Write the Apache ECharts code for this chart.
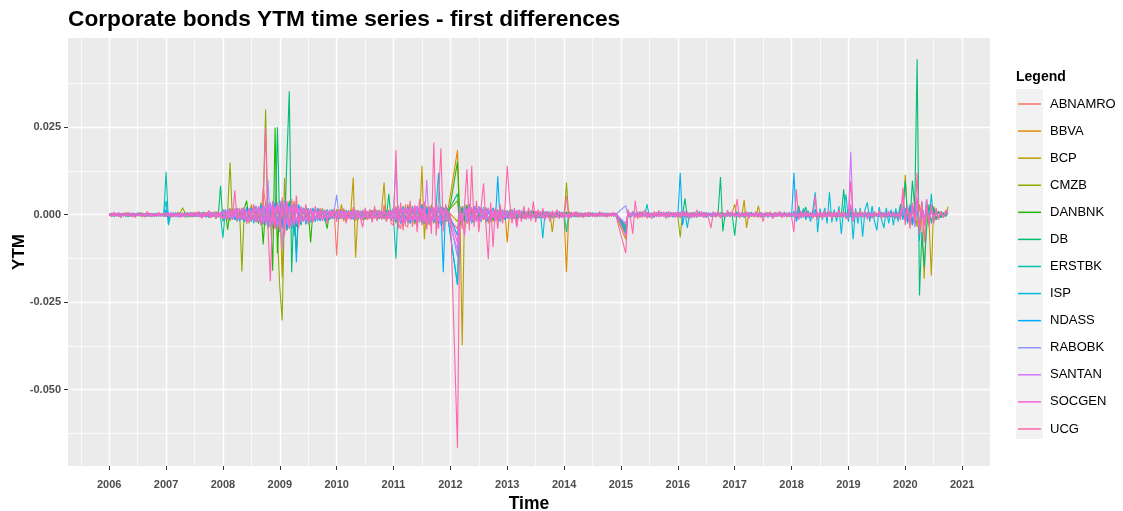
<!DOCTYPE html>
<html><head><meta charset="utf-8">
<script src="https://cdn.jsdelivr.net/npm/echarts@6/dist/echarts.min.js"></script>
<style>html,body{margin:0;padding:0;background:#fff}#c{width:1123px;height:511px}</style>
</head><body><div id="c"></div>
<script>
// Semi-monthly observations from 2006.0 to 2020.75 (355 points per series)
const START_YEAR = 2006;
const STEPS_PER_YEAR = 24;
const SERIES_NAMES = ['ABNAMRO','BBVA','BCP','CMZB','DANBNK','DB','ERSTBK','ISP','NDASS','RABOBK','SANTAN','SOCGEN','UCG'];
const COLORS = ['#F8766D','#E18A00','#BE9C00','#8CAB00','#24B700','#00BE70','#00C1AB','#00BBDA','#00ACFC','#8B93FF','#D575FE','#F962DD','#FF65AC'];
const YEAR_TICKS = [2006,2007,2008,2009,2010,2011,2012,2013,2014,2015,2016,2017,2018,2019,2020,2021];
const Y_TICKS = [-0.05,-0.025,0,0.025];
const TITLE = 'Corporate bonds YTM time series - first differences';

// YTM first differences, in units of 0.0001 (null = missing observation)
const ABNAMRO = [
4,-5,6,-3,2,-6,4,-2,5,-4,3,-6,5,-2,3,-5,6,-3,-4,2,-3,5,-2,3,
6,-4,-5,3,-3,5,-6,4,-2,6,-3,5,-4,3,7,-8,5,-4,9,-6,5,-8,6,-4,
-10,8,-12,15,-8,18,-15,12,-10,20,-18,14,-15,25,-20,18,-25,80,30,-22,-35,25,-30,20,
-25,30,-35,20,-28,25,-20,30,-25,15,-18,20,-15,12,-18,15,-12,14,-10,8,-15,10,-8,12,
-117,15,-10,12,-18,8,-12,15,-10,8,-9,-15,12,-10,8,-14,15,-12,8,-10,18,-12,10,-15,
-20,25,-25,-40,20,-30,-35,25,-20,15,-25,22,-18,20,-22,15,-25,18,-20,15,22,-18,12,-10,
null,null,null,-40,20,-25,18,-22,15,-20,25,-18,15,-20,12,-15,18,-12,10,-15,8,-10,12,-8,
10,-12,8,-10,12,-8,6,-10,9,-7,8,-6,10,-8,5,-7,8,-5,6,-8,5,-6,7,-5,
6,-8,5,-4,6,-5,4,-6,5,-3,4,-5,3,-4,5,-3,4,-5,3,-4,5,-3,4,null,
null,null,-50,8,-6,10,-8,5,-7,9,-5,6,-8,4,-6,7,-5,8,-4,6,-7,5,-4,6,
-5,7,-6,4,-8,5,-4,6,-7,5,-3,6,-5,4,-6,7,-4,5,-6,3,-5,6,-4,5,
-4,6,-5,3,-6,4,-3,5,-4,6,-5,3,-4,5,-3,4,-6,3,-4,5,-3,4,-5,3,
-5,8,-6,4,-7,5,-4,6,-5,7,-4,5,-6,4,-5,6,-3,5,-4,6,-5,4,-6,5,
-4,6,-5,3,-4,5,-6,4,-3,5,-4,6,-5,3,-4,5,-3,4,-5,3,-4,6,-5,10,
-15,20,-25,18,-12,30,-35,22,-28,15,-20,12,-10,8,-6,5,-4,6,3];
const BBVA = [
-3,5,-4,2,-5,3,-2,6,-4,3,-5,2,-3,4,-6,3,-2,5,-4,2,-3,4,-5,3,
-5,4,-6,5,-3,6,-4,3,-7,5,-4,6,-3,8,-6,4,-5,7,-8,6,-4,9,-7,5,
12,-10,15,-8,18,-12,10,-15,20,-18,14,-20,25,-15,22,-25,30,-28,35,-30,25,-40,30,-35,
40,-35,30,-45,35,-25,40,-30,20,-25,18,-22,15,-20,12,-18,15,-12,18,-15,10,-12,14,-10,
15,-12,10,-18,12,-8,15,-10,8,-14,12,-9,10,-15,8,-12,14,-10,12,-8,15,-12,10,-14,
20,-25,18,-22,25,-20,30,-18,22,-28,25,-20,30,-25,20,-30,25,-22,28,-20,25,-30,20,15,
null,null,null,184,-30,25,-20,30,-25,18,-22,25,-18,20,-15,22,-25,18,-20,15,-18,12,-15,10,
-79,15,-12,10,-15,12,-8,10,-12,8,-10,12,-8,6,-10,8,-6,9,-7,5,-8,6,-5,7,
-6,-164,10,-5,6,-4,5,-6,3,-4,5,-3,4,-5,3,-4,2,-3,4,-2,3,-4,2,null,
null,null,-40,6,-5,8,-6,4,-7,5,-4,6,-5,3,-6,4,-3,5,-4,6,-3,4,-5,3,
-4,6,-5,3,-6,4,-3,5,-4,6,-3,4,-5,3,-4,5,-3,4,-6,3,-4,5,-3,4,
-3,5,-4,2,-3,4,-5,3,-2,4,-3,5,-4,2,-3,4,-2,3,-4,2,-3,4,-2,3,
-4,5,-3,6,-4,3,-5,4,-3,5,-4,3,-5,4,-3,6,-4,3,-5,4,-3,5,-4,3,
-3,5,-4,3,-5,4,-3,5,-4,3,-5,4,-3,5,-4,3,-4,5,-3,4,-5,3,-4,8,
-12,18,-20,15,-25,30,-40,35,-30,25,-20,15,-12,10,-8,6,-5,4,3];
const BCP = [
2,-4,3,-2,5,-3,2,-5,4,-2,3,-4,2,-3,5,-2,4,-3,2,-4,3,-2,4,-3,
4,-3,5,-6,3,-4,6,-3,5,-7,4,-5,8,-4,6,-9,5,-6,10,-7,8,-12,6,-8,
15,-12,10,-18,15,-10,20,-15,12,-20,18,-25,30,-20,25,-18,35,-25,30,-40,28,-30,25,-35,
30,-180,105,-40,35,-30,25,-35,20,-25,18,-20,15,-18,12,-15,10,-12,15,-10,12,-8,10,-12,
15,-12,30,-10,12,-8,10,106,-122,12,-10,8,-12,10,-8,12,-10,8,-12,15,92,-20,12,-15,
20,-15,25,-20,18,-25,20,-18,25,-22,18,-20,140,-70,25,-20,30,-25,20,-28,22,-18,15,10,
null,null,null,-20,10,-373,30,-25,20,-22,18,-15,20,-18,15,-12,18,-15,12,-10,15,-12,10,-8,
12,-10,8,-12,10,-8,6,-10,8,-6,9,-7,10,-8,6,-9,7,-5,8,-50,6,-8,5,-6,
5,8,-6,4,-5,6,-3,4,-5,3,-4,5,-3,4,-2,3,-4,2,-3,4,-2,3,-4,null,
null,null,-70,6,-4,5,-6,4,-3,5,-4,6,-5,3,-4,6,-3,5,-4,3,-5,4,-3,5,
-4,5,-3,6,-4,3,-5,4,-3,6,-5,4,-3,5,-6,4,-3,5,-4,6,-3,4,-5,6,
30,-6,5,-4,42,-38,6,-5,4,-6,25,-8,5,-4,6,-3,5,-4,3,-5,4,-3,5,-4,
4,-5,3,-4,6,-3,5,-4,3,-6,4,-5,3,-4,5,-3,4,-6,5,-3,4,-5,3,-4,
5,-4,3,-5,4,-3,6,-4,5,-3,4,-5,3,-4,6,-3,5,-4,3,-5,4,-3,5,6,
114,-20,25,-30,20,-35,30,-25,-183,20,-15,-174,25,-15,10,-8,6,-5,23];
const CMZB = [
-2,3,-4,2,-3,4,-2,3,-5,2,-3,4,-2,5,-3,2,-4,3,-2,4,-3,2,-4,3,
5,-4,3,-5,4,-3,6,20,5,-3,4,-6,3,-5,6,-4,8,-6,5,-7,6,-5,8,-6,
10,-8,12,149,-15,10,-12,18,-162,15,-20,12,-18,25,-15,20,-25,30,301,-30,25,-35,30,-60,
-207,-302,40,-35,30,-40,25,-30,20,-25,18,-20,15,-18,12,-15,18,-12,10,-14,12,-10,8,-12,
12,-10,15,-12,8,-10,12,-8,10,-14,8,-12,10,-8,12,-10,15,-12,10,-8,12,-15,10,-12,
18,-20,15,-22,20,-18,25,-20,18,-25,22,-18,20,-25,18,-22,25,-20,18,-15,20,-22,15,10,
null,null,null,40,-25,20,-18,22,-20,15,-18,20,-15,18,-12,15,-18,12,-10,15,-12,10,-8,12,
-10,12,-8,10,-12,8,-6,10,-8,6,-9,7,-10,8,-6,9,-7,5,-8,6,-5,7,-6,5,
-5,92,-10,6,-5,4,-6,5,-3,4,-5,3,-4,5,-3,4,-2,3,-4,2,-3,4,-2,null,
null,null,-30,5,-4,6,-5,3,-4,5,-6,4,-3,5,-4,6,-3,4,-5,3,-4,5,-3,4,
-5,-65,8,-4,6,-5,3,-4,5,-3,4,-6,5,-3,4,-5,3,-4,6,-3,4,-5,3,-4,
5,-3,4,-5,3,-4,6,-3,5,-4,3,-5,4,-3,5,-4,3,-5,4,-3,5,-4,3,-5,
4,-3,5,-4,3,-6,4,-3,5,-4,6,-3,4,-5,3,-4,5,-3,4,-6,3,-4,5,-3,
4,-5,3,-4,6,-3,5,-4,3,-5,4,-3,5,-4,3,-6,4,-3,5,-4,3,-5,4,10,
-15,20,-25,30,-20,35,-40,25,-30,20,-15,12,-10,8,-6,5,-4,6,15];
const DANBNK = [
3,-2,4,-3,2,-4,3,-2,5,-3,2,-4,3,-2,4,-3,2,-5,3,-2,4,-3,2,-4,
-3,4,-5,3,-4,6,-3,5,-4,3,-6,4,-5,3,-4,6,-5,4,-7,5,-6,8,-5,6,
-10,12,-43,15,-12,10,-15,12,-10,18,40,-15,20,-18,15,-25,20,-85,25,-30,20,-160,249,-110,
30,-40,25,-35,40,-30,25,-110,20,-25,18,-20,15,-79,12,-15,10,-12,15,-10,-40,12,-8,10,
-12,10,-8,12,-10,8,-12,10,-8,12,-10,8,-14,10,-8,12,-10,8,-12,10,-8,12,-10,8,
-15,20,-18,15,-22,18,-20,25,-18,20,-22,15,-25,20,-18,22,-20,18,-25,20,-15,18,-20,-10,
null,null,null,152,-30,20,-18,25,-20,15,-22,18,-15,20,-12,15,-18,12,-15,10,-12,15,-10,8,
-10,8,-12,10,-8,6,-10,8,-6,9,-7,10,-8,6,-9,7,-5,8,-6,5,-7,6,-5,7,
-6,5,-4,6,-5,3,-4,5,-3,4,-5,3,-4,2,-3,4,-2,3,-4,2,-3,4,-2,null,
null,null,-45,5,-4,6,-3,5,-4,3,-5,4,-6,3,-4,5,-3,4,-5,3,-4,6,-3,4,
-4,6,-5,3,-4,5,-3,6,-4,3,-5,4,-3,5,-4,6,-3,4,-5,3,-4,5,-3,4,
-3,4,-5,3,-4,5,-3,4,-2,5,-4,3,-5,4,-3,2,-4,3,-5,4,-3,5,-4,3,
-4,3,-5,4,-3,5,-4,3,-6,4,-3,5,-4,3,-5,4,-3,6,-4,3,-5,4,-3,5,
-3,4,-5,3,-4,6,-3,5,-4,3,-5,4,-3,5,-4,3,-5,4,-3,6,-4,3,-5,8,
-10,15,-20,25,-30,40,-35,30,-25,20,-15,12,-10,8,-6,5,-4,3,5];
const DB = [
-2,4,-3,2,-5,3,-2,4,-3,2,-4,3,-2,5,-3,2,-4,3,-2,4,-5,3,-2,4,
-3,5,-4,3,-5,4,-6,3,-4,5,-3,6,-5,4,-3,7,-5,4,-8,6,-5,7,-6,83,
-20,15,-12,18,-10,15,-18,12,-15,20,-25,15,-20,25,-18,22,-30,25,-20,30,-25,35,-40,250,
-50,40,-45,160,353,-164,30,-35,25,-30,20,-25,18,-20,15,-18,12,-15,10,-12,15,-10,8,-12,
10,-8,12,-10,8,-12,10,-8,12,-10,8,-14,10,-8,12,-10,8,-12,10,-8,12,-10,60,-15,
15,-20,18,-15,22,-18,20,-25,18,-20,22,-15,25,-20,18,-22,20,-18,25,-20,15,-18,20,10,
null,null,null,60,-25,20,-18,25,-20,15,-22,18,-15,20,-12,15,-18,12,-15,10,-12,15,-10,8,
-8,10,-12,8,-10,6,-8,10,-6,9,-7,8,-10,6,-8,7,-5,9,-6,5,-7,6,-5,8,
-5,6,-4,5,-6,3,-5,4,-3,5,-4,3,-2,4,-3,5,-2,3,-4,2,-3,4,-2,null,
null,null,-50,4,-5,6,-3,5,-4,6,-3,4,-5,3,-4,6,-5,3,-4,5,-3,4,-6,3,
-5,6,-4,47,-8,5,-4,6,-5,3,-4,6,-3,5,-4,3,-6,5,108,-48,5,-4,6,-3,
-60,8,-5,4,-6,3,-5,4,-3,6,-4,5,-3,4,-5,3,-4,6,-3,5,-4,3,-5,4,
-3,5,-4,25,-5,3,22,-4,5,-3,4,-6,3,-5,4,-3,6,-4,3,-5,4,-3,73,-10,
5,-4,6,-3,5,-4,3,-6,4,-3,5,-4,3,-5,4,-3,5,-4,3,-6,4,-3,30,10,
97,-10,-22,97,20,444,-231,-50,-150,-40,30,-25,20,-15,10,-8,6,-5,4];
const ERSTBK = [
2,-3,4,-2,3,-5,2,-3,4,-2,5,-3,2,-4,3,-2,4,-3,2,-5,3,-2,4,-3,
123,-25,5,-4,6,-3,5,-4,3,-6,4,-5,3,-4,6,-5,4,-6,5,-7,6,-5,8,-6,
-66,12,-10,15,-12,10,-18,15,-12,20,-15,12,-20,25,-18,15,-25,20,-30,25,-20,30,-25,20,
-30,35,-25,30,-40,25,-60,30,-25,20,-18,15,-20,12,-15,18,-12,10,-15,12,-10,8,-12,10,
-10,8,-12,10,-8,12,-10,8,-12,10,-8,14,-10,8,-12,10,-8,12,-10,8,-12,10,-8,12,
-10,-126,20,-18,15,-20,18,-22,15,-18,20,-15,22,-18,15,-20,18,-22,15,-20,18,-25,15,-10,
null,null,null,-200,20,-25,18,-22,15,-18,20,-15,18,-12,15,-18,12,-10,15,-12,10,-8,12,-10,
8,-10,12,-8,10,-6,8,-10,6,-9,7,-8,10,-6,8,-7,5,-9,6,-5,7,-6,5,-8,
5,-50,8,-5,4,-6,3,-5,4,-3,5,-4,3,-2,4,-3,2,-4,3,-2,4,-3,2,null,
null,null,-55,4,-5,6,-3,5,-4,6,-3,4,-5,3,-4,6,-5,3,-4,5,-3,4,-6,3,
5,-3,4,-6,3,-4,6,-5,3,-4,5,-3,6,-4,3,-5,4,-3,5,-6,4,-3,5,-4,
4,-5,3,-4,6,-3,5,-4,3,-2,4,-5,3,-4,5,-3,2,-4,6,-3,4,-5,3,-4,
5,-4,3,-6,4,-3,5,-4,3,-5,6,-3,4,-5,3,-4,6,-3,4,-5,3,-6,4,-3,
4,-3,6,-5,3,-4,5,-3,4,-6,3,-5,4,-3,6,-4,3,-5,4,-3,5,-4,3,6,
-12,15,-20,25,-30,35,-45,30,-25,20,-15,12,-10,8,-6,5,-4,3,4];
const ISP = [
-3,2,-5,4,-2,3,-4,2,-6,3,-2,4,-3,5,-2,3,-4,2,-5,3,-2,4,-3,2,
40,-30,4,-5,3,-6,4,-3,5,-4,6,-3,4,-5,3,-6,5,-4,7,-5,6,-8,5,-7,
10,-12,15,-10,12,-15,10,-18,15,-20,12,-15,20,-25,18,-22,25,-20,30,-35,25,-30,35,-28,
30,-35,40,-30,35,-40,25,-30,20,-25,18,-22,15,-18,20,-15,12,-18,10,-15,12,-10,15,-8,
10,-12,8,-10,12,-8,10,-14,8,-12,10,-8,12,-10,8,-12,10,-8,14,-10,8,-12,10,-8,
15,-20,25,-18,22,-15,20,-25,18,-22,25,-18,30,-20,22,-25,18,-20,25,120,-30,20,15,-10,
null,null,null,-200,25,-20,30,-18,22,-25,20,-15,25,-20,18,-22,15,-18,20,-15,12,-18,15,-12,
10,-12,15,-10,12,-8,10,-12,8,-10,12,-8,6,-10,8,-67,10,-6,8,-10,6,-8,10,-6,
8,-6,5,-8,6,-4,7,-5,4,-6,5,-4,6,-3,5,-4,6,-5,4,-3,5,-4,3,null,
null,null,-45,6,-8,5,-6,8,-5,7,-4,30,-6,5,-8,6,-4,7,-5,6,-8,5,-6,7,
-6,8,-5,10,-38,6,-8,5,-7,9,-5,6,-8,5,-6,8,-4,7,-6,5,-8,6,-5,7,
-5,7,-6,4,-8,5,-6,8,-4,6,-5,7,-6,4,-8,5,-6,7,-4,6,-5,8,-6,5,
-8,10,-12,15,-10,18,-15,12,-20,15,64,-50,18,-15,20,-25,64,-22,15,-20,25,-55,18,58,
-20,25,-70,18,-25,20,-63,15,35,-20,25,-18,-45,22,-15,-38,20,-25,15,-30,18,-20,25,-15,
20,-25,30,-20,25,40,-74,35,-30,45,-25,60,-20,15,-12,10,-8,6,5];
const NDASS = [
2,-4,3,-2,5,-3,2,-4,3,-5,2,-3,4,-2,3,-5,2,-3,4,-2,3,-4,2,-3,
15,-10,5,-3,4,-6,3,-5,4,-3,6,-4,5,-3,4,-6,5,-7,4,-6,8,-5,6,-8,
12,-10,15,-12,10,-15,18,-12,15,-20,22,-15,20,-18,25,-20,30,-25,20,-30,35,-25,30,-35,
40,-30,35,-45,30,-35,25,-136,30,-25,20,-28,18,-22,15,-20,18,-15,12,-18,10,-15,12,-10,
8,-10,12,-8,10,-12,8,-10,14,-8,10,-12,8,-10,12,-8,10,-14,8,-10,12,-8,10,-12,
18,-20,15,-25,20,-18,22,-20,25,-18,20,-22,18,-25,20,-15,22,-20,18,-25,20,-164,25,10,
null,null,null,-60,20,-25,18,-22,30,-20,25,-18,20,-15,22,-18,15,-20,18,-15,110,-20,12,-15,
12,-10,8,-12,10,-8,12,-10,8,-6,10,-8,6,-9,8,-10,6,-8,5,-7,8,-6,5,-7,
6,-5,4,-6,5,-3,4,-5,3,-4,6,-3,5,-4,3,-5,4,-3,5,-2,4,-3,2,null,
null,null,-35,5,-6,4,-5,6,-3,5,-4,6,-5,3,-4,5,-6,4,-3,5,-4,6,-5,4,
-5,120,-30,6,-5,4,-6,5,-3,6,-4,5,-6,4,-3,5,-4,6,-5,3,-4,6,-5,4,
-4,5,-3,6,-4,5,-3,4,-5,3,-6,4,-3,5,-4,6,-3,4,-5,3,-4,5,-3,4,
-5,120,-20,6,-4,5,-6,4,-5,3,15,-8,5,-4,6,-5,4,-3,5,-6,4,-3,5,-4,
6,-5,4,-6,3,-5,4,-3,6,-4,5,-3,4,-6,5,-4,3,-5,4,-3,6,-4,5,-8,
15,-20,25,-30,20,35,-40,25,-20,30,-25,15,-12,10,-8,6,-5,4,3];
const RABOBK = [
3,-2,4,-3,2,-4,5,-2,3,-4,2,-3,5,-2,4,-3,2,-4,3,-2,5,-3,2,-4,
-4,5,-3,6,-4,3,-5,4,-6,5,-3,4,-6,5,-4,7,-5,6,-4,8,-6,5,-7,6,
-12,15,-10,12,-15,10,-12,18,-15,12,-20,15,-18,22,-20,18,-25,20,-30,100,-35,25,-30,35,
-30,25,-35,30,-25,35,-30,25,-20,22,-18,20,-15,18,-12,15,-18,12,-10,14,-12,10,-8,12,
57,-10,12,-8,10,-12,8,-10,12,-8,10,-14,8,-10,12,-8,10,-12,8,-10,14,-8,10,-12,
15,145,-25,20,-18,22,-20,18,-25,20,-15,22,-18,25,-20,18,-22,20,-18,25,-20,15,-18,10,
null,null,null,-120,20,-18,25,-20,15,-22,18,-15,20,-18,12,-15,18,-12,15,-10,12,-15,10,-8,
10,-8,12,-10,8,-6,10,-8,6,-9,7,-10,8,-6,9,-7,5,-8,6,-5,7,-6,5,-7,
6,-5,4,-6,5,-3,4,-5,3,-4,5,-3,4,-2,3,-4,2,-3,4,-2,3,-4,2,null,
null,null,26,-5,6,-4,5,-3,6,-5,4,-6,3,-4,5,-3,6,-4,5,-3,4,-6,5,-4,
5,-4,6,-3,5,-4,3,-6,4,-5,3,-4,6,-3,5,-4,6,-3,4,-5,3,-4,5,-3,
4,-3,5,-4,3,-5,4,-3,2,-4,5,-3,4,-5,3,-4,2,-3,5,-4,3,-5,4,-3,
3,-4,5,-3,4,-5,3,-4,6,-3,4,-5,3,-4,5,-3,4,-6,3,-4,5,-3,4,-5,
4,-3,5,-4,3,-5,4,-6,3,-4,5,-3,4,-5,3,-4,6,-3,4,-5,3,-4,5,12,
-15,20,-25,30,-35,40,-30,25,-20,15,-12,10,-8,6,-5,4,-3,5,3];
const SANTAN = [
-2,4,-3,5,-2,3,-4,2,-3,5,-2,4,-3,2,-5,3,-2,4,-3,2,-4,3,-5,2,
5,-3,6,-4,3,-5,4,-6,3,-4,5,-3,6,-4,5,-7,4,-5,6,-4,7,-6,5,-8,
10,-12,15,-10,12,-8,15,-12,18,-15,12,-20,15,-18,25,-20,18,-25,30,-22,35,-30,25,-40,
35,-100,40,-30,25,-35,30,-25,20,-22,18,-20,15,-18,12,-15,10,-12,14,-10,12,-8,10,-12,
10,-8,12,-10,8,-12,10,-8,14,-10,8,-12,10,-8,12,-10,8,-14,10,-8,12,-10,8,-12,
20,-15,22,-20,18,-25,20,-18,22,-15,25,-20,18,-22,99,-25,20,-18,25,-20,22,-15,18,-10,
null,null,null,-100,25,-20,18,-25,22,-18,15,-20,25,-15,18,-12,20,-15,12,-18,10,-12,15,-10,
8,-12,10,-8,12,-6,10,-8,6,-10,8,-7,9,-6,8,-5,7,-9,6,-5,8,-6,5,-7,
6,-5,4,-6,5,-4,3,-5,4,-3,5,-4,3,-2,4,-3,2,-4,3,-2,4,-3,2,null,
null,null,-25,5,-4,6,-5,3,-4,5,-6,4,-3,5,-4,6,-3,4,-5,3,-4,5,-3,4,
-4,5,-3,6,-4,3,-5,4,-3,5,-6,4,-3,5,-4,6,-3,4,-5,3,-4,5,-3,4,
3,-4,2,-5,4,-3,5,-2,4,-3,6,-4,3,-5,2,-4,3,-6,4,-3,5,-2,4,-3,
-2,5,-3,4,-6,3,-4,5,-3,2,-5,4,-3,6,-4,3,-5,2,-4,5,-3,4,-6,3,
-3,180,-20,4,-5,3,-4,6,-3,5,-4,3,-5,4,-3,5,-4,3,-6,4,-3,5,-4,20,
-10,15,-20,25,-30,35,-40,28,-22,18,-15,12,-10,8,-6,5,-4,3,4];
const SOCGEN = [
3,-4,2,-3,5,-2,4,-3,2,-5,3,-2,4,-3,2,-4,5,-2,3,-4,2,-3,4,-2,
-5,6,-4,3,-6,4,-3,5,-4,6,-5,3,-4,5,-6,4,-5,6,-7,5,-6,8,-5,7,
-12,10,-15,12,-10,15,-12,18,-15,12,-18,20,-15,22,-18,25,-20,30,-25,35,-30,40,-35,30,
-40,35,-30,40,-35,25,-30,20,-25,22,-18,20,-15,18,-12,15,-10,12,-14,10,-12,8,-10,12,
-8,10,-12,8,-10,12,-8,10,-14,8,-10,12,-8,10,-12,8,-10,14,-8,10,-12,8,-10,12,
-15,20,-22,18,-25,20,-18,22,-15,25,-20,18,-22,20,-25,18,-20,22,-15,-40,20,-18,15,10,
null,null,null,-80,22,-18,-60,20,-15,22,-18,15,-20,18,-12,15,-18,12,-10,15,-12,10,-8,12,
-10,8,-12,10,-36,6,8,-10,6,-8,9,-7,10,-6,8,-9,5,-7,6,-8,5,-6,7,-5,
5,-6,4,-5,6,-3,5,-4,3,-5,4,-3,2,-4,3,-2,4,-3,2,-4,3,-2,4,null,
null,null,-60,6,-4,5,-6,3,-5,4,-3,6,-4,5,-3,4,-6,5,-3,4,-5,3,-4,6,
-3,5,-4,6,-5,3,-4,5,-6,4,-3,5,-4,3,-5,6,-4,3,-5,4,-3,6,-4,5,
-4,3,-5,4,-3,5,-4,2,-3,4,-5,3,-4,5,-3,4,-2,5,-3,4,-5,3,-4,5,
-3,4,-6,3,-4,5,-3,4,-5,3,-4,6,-3,4,-5,3,-4,5,-3,6,-4,3,-5,4,
-4,30,-8,3,-5,4,-3,5,-4,6,-3,4,-5,3,-4,5,-3,4,-5,3,-4,6,-3,60,
-20,15,-25,30,-20,50,-45,35,-30,25,-20,15,-10,8,-6,5,-4,3,4];
const UCG = [
3,-6,8,-4,2,-9,5,-2,7,-5,1,-8,6,-3,4,-7,9,-2,-5,3,-4,6,-1,2,
5,-3,-7,4,-2,6,-8,3,-1,5,-4,7,-6,2,9,-10,4,-3,12,-8,6,-11,8,-5,
-12,10,-15,18,-8,70,-20,14,-9,22,-25,12,-18,30,-22,15,-30,40,249,-35,-190,28,-40,35,
-45,50,-60,35,-40,45,-30,55,-38,25,-20,30,-28,18,-22,25,-15,20,-18,12,-25,15,-10,18,
-20,15,-12,18,-25,10,-15,22,-18,12,-10,-36,20,-14,16,-22,25,-18,12,-15,28,-20,15,-25,
-30,184,-40,35,-45,30,-25,40,-35,28,-50,45,-30,38,-42,25,-55,206,-60,45,190,-48,30,-20,
5,null,null,-667,10,-40,30,130,-45,140,-35,40,-50,25,90,-30,-127,35,-93,20,-40,30,-25,18,
140,40,-25,20,-30,15,-20,25,-15,20,-18,38,-22,15,-10,18,-14,10,-20,12,-8,15,-12,8,
-10,54,-12,8,-6,10,-8,5,-9,7,-5,8,-6,4,-7,9,-5,6,-8,5,-4,7,-6,null,
null,null,-110,15,-10,-55,40,-12,10,-8,14,-10,6,-12,9,-7,12,-5,8,-11,10,-6,7,-9,
8,-10,12,-6,9,-12,7,-8,14,-5,10,-9,6,-11,-38,8,-7,11,-10,6,-8,13,-6,9,
-8,45,-10,7,-6,9,-11,5,-7,10,-8,6,-20,8,-5,9,-12,7,-6,10,-9,5,-7,8,
-6,-50,73,-15,10,-8,12,-9,7,-11,54,-14,9,-10,13,-8,11,-12,8,-9,14,-7,10,-11,
-12,97,-18,10,-9,12,-8,11,-13,7,-10,9,-6,12,-11,8,-9,10,-7,9,-12,6,-15,78,
-30,25,-40,35,-20,120,-55,40,-80,45,-35,30,-25,20,-15,10,-8,12,6];

const VALUES = {ABNAMRO, BBVA, BCP, CMZB, DANBNK, DB, ERSTBK, ISP, NDASS, RABOBK, SANTAN, SOCGEN, UCG};
const FONT = "'Liberation Sans', Arial, Helvetica, sans-serif";

SERIES_NAMES.forEach(n => { if (VALUES[n].length !== 355) throw new Error(n + ' has ' + VALUES[n].length + ' values'); });

const series = SERIES_NAMES.map((name, k) => ({
  name, type: 'line', symbol: 'none', showSymbol: false, connectNulls: true,
  animation: false, silent: true,
  lineStyle: {width: 1.1, color: COLORS[k]},
  itemStyle: {color: COLORS[k]},
  emphasis: {disabled: true},
  data: VALUES[name].map((v, i) => [START_YEAR + i / STEPS_PER_YEAR, v == null ? '-' : v / 10000])
}));

const chart = echarts.init(document.getElementById('c'), null, {renderer: 'canvas'});
chart.setOption({
  backgroundColor: '#ffffff',
  animation: false,
  textStyle: {fontFamily: FONT},
  title: {text: TITLE, left: 68, top: 8, padding: 0,
    textStyle: {fontFamily: FONT, fontSize: 22.7, fontWeight: 'bold', color: '#000'}},
  grid: {left: 68, right: 133, top: 38, bottom: 45, show: true, backgroundColor: '#EBEBEB', borderWidth: 0,
    containLabel: false, outerBoundsMode: 'none'},
  xAxis: {
    type: 'value', min: 2005.275, max: 2021.49, minInterval: 1, maxInterval: 1,
    axisLine: {show: false, onZero: false},
    axisTick: {show: true, length: 4, lineStyle: {color: '#333333', width: 1}, customValues: YEAR_TICKS},
    axisLabel: {customValues: YEAR_TICKS, formatter: v => String(Math.round(v)), color: '#4D4D4D',
      fontWeight: 'bold', fontSize: 11, margin: 13, fontFamily: FONT},
    splitLine: {show: true, lineStyle: {color: '#ffffff', width: 1.4}},
    minorTick: {show: false, splitNumber: 2},
    minorSplitLine: {show: true, lineStyle: {color: '#ffffff', width: 0.7}},
    name: 'Time', nameLocation: 'middle', nameGap: 29, nameMoveOverlap: false,
    nameTextStyle: {fontSize: 17.5, fontWeight: 'bold', color: '#000', fontFamily: FONT}
  },
  yAxis: {
    type: 'value', min: -0.0718, max: 0.0505, minInterval: 0.025, maxInterval: 0.025,
    axisLine: {show: false, onZero: false},
    axisTick: {show: true, length: 4, lineStyle: {color: '#333333', width: 1}, customValues: Y_TICKS},
    axisLabel: {customValues: Y_TICKS, formatter: v => v.toFixed(3), color: '#4D4D4D',
      fontWeight: 'bold', fontSize: 11, margin: 7, fontFamily: FONT},
    splitLine: {show: true, lineStyle: {color: '#ffffff', width: 1.4}},
    minorTick: {show: false, splitNumber: 2},
    minorSplitLine: {show: true, lineStyle: {color: '#ffffff', width: 0.7}},
    name: 'YTM', nameLocation: 'middle', nameGap: 40, nameMoveOverlap: false,
    nameTextStyle: {fontSize: 17, fontWeight: 'bold', color: '#000', fontFamily: FONT}
  },
  legend: {
    orient: 'vertical', left: 1018, top: 97.5, padding: 0,
    itemWidth: 23, itemHeight: 14, itemGap: 14.08,
    icon: 'path://M0,0H230V15H0Z',
    data: SERIES_NAMES, selectedMode: false,
    textStyle: {fontSize: 13, color: '#000', fontFamily: FONT, padding: [0, 0, 0, 4]}
  },
  graphic: [
    {type: 'rect', left: 1016, top: 89, z: 0, silent: true,
      shape: {width: 27, height: 350}, style: {fill: '#F2F2F2'}},
    {type: 'text', x: 1016, y: 77, z: 5, silent: true,
      style: {text: 'Legend', fontSize: 14, fontWeight: 'bold', fill: '#000', fontFamily: FONT, verticalAlign: 'middle'}}
  ],
  series
});
</script>
</body></html>
